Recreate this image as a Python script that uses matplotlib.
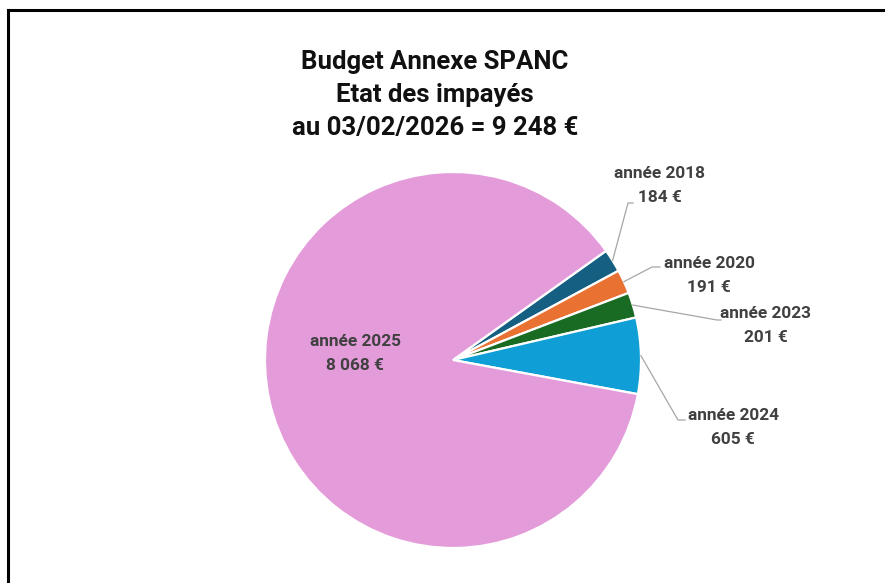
import numpy as np
import matplotlib.pyplot as plt

# --- Data ---
years = ['2018', '2020', '2023', '2024', '2025']
amounts = [184, 191, 201, 605, 8068]
amount_labels = ['184 €', '191 €', '201 €', '605 €', '8 068 €']
colors = ['#156082', '#E97132', '#196B24', '#0F9ED5', '#E39BDA']

W, H = 885, 583
fig = plt.figure(figsize=(W / 100, H / 100), dpi=100)
ax = fig.add_axes([0, 0, 1, 1])

def Y(y):
    return H - y

# frame: only top and left edges are visible in the picture
ax.plot([7.5, W + 5], [Y(9.5), Y(9.5)], color='black', lw=2.2, solid_capstyle='projecting')
ax.plot([7.5, 7.5], [Y(9.5), -5], color='black', lw=2.2, solid_capstyle='projecting')

cx, cy, R = 453, Y(360), 188
wedges, _ = ax.pie(amounts, center=(cx, cy), radius=R, startangle=35.5, counterclock=False,
                   colors=colors, wedgeprops=dict(edgecolor='white', linewidth=1.6))
ax.set_xlim(0, W)
ax.set_ylim(0, H)
ax.set_aspect('equal')
ax.axis('off')

font = ['Roboto', 'DejaVu Sans']
ax.text(435, Y(95), 'Budget Annexe SPANC\nEtat des impayés\nau 03/02/2026 = 9 248 €',
        ha='center', va='center', fontsize=18.5, fontweight='bold', family=font,
        color='#111111', linespacing=1.5)

# label text positions (pixels) and leader elbows
label_pos = [(660, 185), (709, 275), (766, 326), (733, 427), (355, 354)]
elbows = [(628, 203), (652, 267), (717, 320), (678, 420), None]
ends = [(633, 203), (660, 267), (721, 320), (685, 420), None]

for w, yr, lab, pos, el, en in zip(wedges, years, amount_labels, label_pos, elbows, ends):
    ax.text(pos[0], Y(pos[1]), f'année {yr}\n{lab}', ha='center', va='center',
            fontsize=12.4, fontweight='bold', family=font, color='#404040', linespacing=1.75)
    if el is not None:
        ang = np.deg2rad((w.theta1 + w.theta2) / 2)
        x0, y0 = cx + R * np.cos(ang), cy + R * np.sin(ang)
        ax.plot([x0, el[0], en[0]], [y0, Y(el[1]), Y(en[1])], color='#A6A6A6', lw=0.9)

fig.savefig('out.png', dpi=100, facecolor='white')
